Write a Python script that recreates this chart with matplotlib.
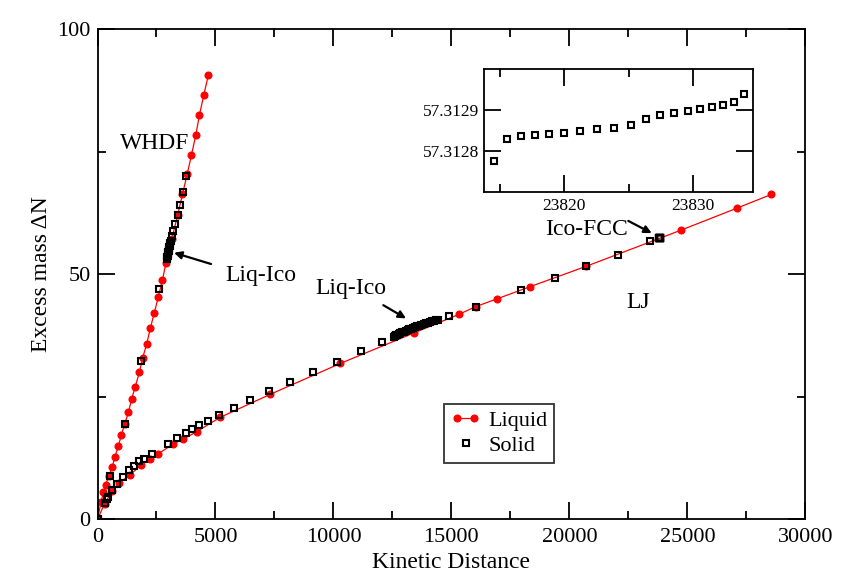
import matplotlib
matplotlib.use("Agg")
import matplotlib.pyplot as plt
from matplotlib.ticker import MultipleLocator, FixedLocator, FormatStrFormatter
from matplotlib.legend_handler import HandlerLine2D

plt.rcParams['font.family'] = ['Liberation Serif', 'DejaVu Serif']
plt.rcParams['mathtext.fontset'] = 'stix'

# ---------------- data ----------------
whdf_liq_x = [0, 150, 250, 340, 480, 628, 742, 882, 1010, 1150, 1307, 1451, 1604,
              1773, 1917, 2087, 2240, 2410, 2580, 2750, 2906, 3150, 3400, 3600,
              3800, 3980, 4166, 4320, 4505, 4701]
whdf_liq_y = [0, 3.5, 5.5, 7.0, 8.8, 10.7, 12.8, 14.9, 17.2, 19.4, 21.8, 24.6, 27.1,
              30.0, 33.0, 35.8, 39.0, 42.2, 45.4, 48.8, 52.4, 57.2, 62.2, 66.3,
              70.4, 74.3, 78.4, 82.5, 86.6, 90.7]

whdf_sol_x = [0, 530, 1153, 1858, 2595, 2935, 2948, 2957, 2969, 2980, 2991, 3003,
              3012, 3024, 3036, 3047, 3058, 3066, 3076, 3105, 3161, 3217, 3302,
              3402, 3487, 3613, 3768]
whdf_sol_y = [0, 8.8, 19.5, 32.3, 46.9, 53.1, 53.4, 53.6, 53.8, 54.1, 54.3, 54.6,
              54.8, 55.0, 55.3, 55.5, 55.8, 56.0, 56.3, 56.8, 57.8, 58.8, 60.3,
              62.0, 64.1, 66.7, 70.0]

lj_liq_x = [0, 300, 620, 900, 1379, 1833, 2227, 2553, 3216, 3614, 4209, 5197, 7319,
            10288, 13398, 15307, 16029, 16937, 18350, 20696, 24727, 27102, 28562]
lj_liq_y = [0, 3.2, 5.7, 7.4, 9.0, 11.1, 12.3, 13.3, 15.4, 16.3, 17.9, 20.8, 25.5,
            31.8, 38.0, 41.8, 43.4, 45.0, 47.5, 51.6, 59.0, 63.5, 66.3]

lj_sol_x = [0, 318, 417, 459, 628, 840, 1095, 1336, 1549, 1775, 1986, 2325, 2991,
            3386, 3742, 4022, 4306, 4688, 5168, 5779, 6470, 7289, 8170, 9113,
            10132, 11150, 12058,
            12550, 12590, 12640, 12700, 12770, 12840, 12910, 12990, 13060, 13140,
            13220, 13300, 13390, 13470, 13560, 13640, 13730, 13820, 13910, 14000,
            14090, 14180, 14260, 14340, 14417,
            14884, 16029, 17938, 19381, 20696, 22054, 23412]
lj_sol_y = [0, 3.3, 4.1, 4.6, 6.0, 7.3, 8.7, 10.1, 10.9, 11.8, 12.3, 13.3, 15.4,
            16.5, 17.6, 18.4, 19.2, 20.1, 21.2, 22.7, 24.3, 26.1, 28.0, 30.0,
            32.2, 34.3, 36.1,
            37.3, 37.4, 37.6, 37.7, 37.9, 38.0, 38.2, 38.3, 38.5, 38.6,
            38.8, 38.9, 39.1, 39.2, 39.4, 39.5, 39.7, 39.8, 40.0, 40.1,
            40.2, 40.4, 40.5, 40.6, 40.7,
            41.5, 43.4, 46.7, 49.2, 51.6, 54.0, 56.7]

ico_fcc_x = [23814.55, 23815.58, 23816.67, 23817.75, 23818.84, 23820.00, 23821.21,
             23822.53, 23823.82, 23825.14, 23826.36, 23827.44, 23828.53, 23829.61,
             23830.52, 23831.47, 23832.33, 23833.15, 23833.95]
ico_fcc_y = [57.312777, 57.312830, 57.312836, 57.312839, 57.312843, 57.312844,
             57.312848, 57.312853, 57.312856, 57.312865, 57.312878, 57.312888,
             57.312893, 57.312898, 57.312902, 57.312907, 57.312912, 57.312921,
             57.312939]

x_ticks = [0, 5000, 10000, 15000, 20000, 25000, 30000]
y_ticks = [0, 50, 100]
inset_x_ticks = [23820, 23830]
inset_y_ticks = [57.3128, 57.3129]

# ---------------- figure ----------------
W, H = 868, 577
fig = plt.figure(figsize=(W / 100, H / 100), dpi=100)

def frac(l, t, r, b):
    return [l / W, 1 - b / H, (r - l) / W, (b - t) / H]

ax = fig.add_axes(frac(97.5, 29.3, 805.3, 519.3))

red = '#ff0000'
liq_kw = dict(color=red, lw=0.9, marker='o', ms=4.8, mfc=red, mec=red, zorder=2)
sol_kw = dict(ls='none', marker='s', ms=5.0, mfc='none', mec='black', mew=1.5, zorder=3)

ax.plot(whdf_liq_x, whdf_liq_y, label='Liquid', **liq_kw)
ax.plot(lj_liq_x, lj_liq_y, **liq_kw)
sol_line, = ax.plot(whdf_sol_x, whdf_sol_y, label='Solid', **sol_kw)
ax.plot(lj_sol_x, lj_sol_y, **sol_kw)
ax.plot(ico_fcc_x, ico_fcc_y, **sol_kw)

ax.set_xlim(0, 30000)
ax.set_ylim(0, 100)
ax.xaxis.set_major_locator(FixedLocator(x_ticks))
ax.xaxis.set_minor_locator(MultipleLocator(2500))
ax.yaxis.set_major_locator(FixedLocator(y_ticks))
ax.yaxis.set_minor_locator(MultipleLocator(25))
ax.set_xticklabels([str(v) for v in x_ticks])
ax.set_yticklabels([str(v) for v in y_ticks])
ax.tick_params(which='both', direction='in', top=True, right=True, width=1.3)
ax.tick_params(which='major', length=12, labelsize=16)
ax.tick_params(axis='x', which='major', pad=6)
ax.tick_params(axis='y', which='major', pad=5)
ax.tick_params(which='minor', length=6)
for s in ax.spines.values():
    s.set_linewidth(1.3)

ax.set_xlabel('Kinetic Distance', fontsize=17, labelpad=4)
ax.set_ylabel('Excess mass ΔN', fontsize=17, labelpad=4)

# annotations
tfs = 17
ax.text(2437, 76.6, 'WHDF', fontsize=tfs, ha='center', va='center')
ax.text(6930, 49.7, 'Liq-Ico', fontsize=tfs, ha='center', va='center')
ax.text(10745, 47.2, 'Liq-Ico', fontsize=tfs, ha='center', va='center')
ax.text(20706, 59.2, 'Ico-FCC', fontsize=tfs, ha='center', va='center')
ax.text(22910, 44.2, 'LJ', fontsize=tfs, ha='center', va='center')

arr = dict(arrowstyle='-|>', lw=1.6, color='black', mutation_scale=11,
           shrinkA=0, shrinkB=0)
ax.annotate('', xy=(3243, 54.4), xytext=(4811, 52.1), arrowprops=arr)
ax.annotate('', xy=(13076, 41.0), xytext=(12114, 43.7), arrowprops=arr)
ax.annotate('', xy=(23490, 58.4), xytext=(22498, 60.9), arrowprops=arr)

leg = ax.legend(loc='upper left', bbox_to_anchor=((444 - 97.5) / 707.8, (519.3 - 404) / 490),
                fontsize=16, numpoints=2, frameon=True, fancybox=False,
                edgecolor='black', handlelength=1.35, handletextpad=0.35,
                borderpad=0.3, labelspacing=0.2, borderaxespad=0,
                handler_map={sol_line: HandlerLine2D(numpoints=1)})
leg.get_frame().set_linewidth(1.3)

# inset
ins = fig.add_axes(frac(484.3, 69.3, 753.3, 192.0))
ins.plot(ico_fcc_x, ico_fcc_y, **sol_kw)
ins.set_xlim(23813.8, 23834.65)
ins.set_ylim(57.3127, 57.3130)
ins.xaxis.set_major_locator(FixedLocator(inset_x_ticks))
ins.xaxis.set_minor_locator(FixedLocator([23815, 23825]))
ins.yaxis.set_major_locator(FixedLocator(inset_y_ticks))
ins.xaxis.set_major_formatter(FormatStrFormatter('%d'))
ins.yaxis.set_major_formatter(FormatStrFormatter('%.4f'))
ins.tick_params(which='both', direction='in', top=True, right=True, width=1.3)
ins.tick_params(which='major', length=12, labelsize=12.5, pad=4)
ins.tick_params(which='minor', length=6)
for s in ins.spines.values():
    s.set_linewidth(1.3)

fig.savefig('out.png', dpi=100)
